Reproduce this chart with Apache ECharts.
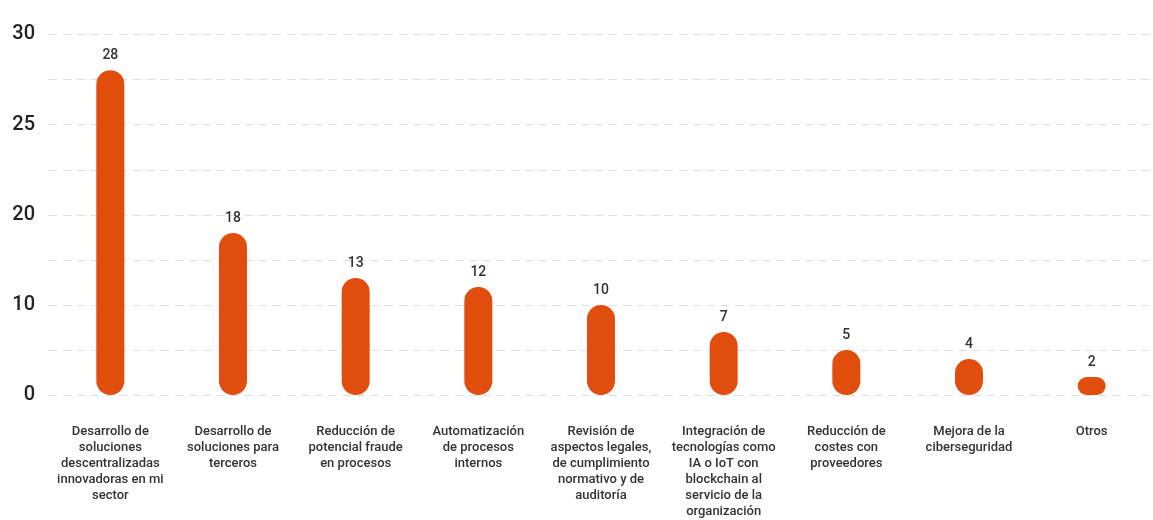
<!DOCTYPE html>
<html>
<head>
<meta charset="utf-8">
<script src="https://cdn.jsdelivr.net/npm/echarts@6/dist/echarts.min.js"></script>
<style>
html,body{margin:0;padding:0;background:#fff;}
#chart{width:1153px;height:520px;}
</style>
</head>
<body>
<div id="chart"></div>
<script>
// Data
const categories = [
  "Desarrollo de\nsoluciones\ndescentralizadas\ninnovadoras en mi\nsector",
  "Desarrollo de\nsoluciones para\nterceros",
  "Reducción de\npotencial fraude\nen procesos",
  "Automatización\nde procesos\ninternos",
  "Revisión de\naspectos legales,\nde cumplimiento\nnormativo y de\nauditoría",
  "Integración de\ntecnologías como\nIA o IoT con\nblockchain al\nservicio de la\norganización",
  "Reducción de\ncostes con\nproveedores",
  "Mejora de la\nciberseguridad",
  "Otros"
];
const values = [28, 18, 13, 12, 10, 7, 5, 4, 2];
const lowerTickLabels = ["0", "10", "20"];
const upperTickLabels = ["25", "30"];

const BAR = '#E14D0C';
const split = 20;

const chart = echarts.init(document.getElementById('chart'), null, {renderer: 'canvas'});
const gridLine = {show: true, lineStyle: {color: '#dedede', width: 1, type: [8, 6]}};
const yLabel = {
  fontFamily: 'Roboto', fontSize: 20, color: '#222', fontWeight: 500, margin: 14
};
const valLabel = {
  show: true, position: 'top', distance: 8,
  fontFamily: 'Roboto', fontSize: 14, fontWeight: 500, color: '#333'
};

const lowerData = values.map(v => ({
  value: v,
  itemStyle: {borderRadius: v > split ? [0, 0, 14, 14] : 14}
}));

chart.setOption({
  animation: false,
  grid: [
    {left: 49, right: -16, top: 215, bottom: 124},
    {left: 49, right: -16, top: 34, bottom: 305}
  ],
  xAxis: [
    {
      type: 'category', gridIndex: 0, data: categories,
      axisLine: {show: false}, axisTick: {show: false},
      axisLabel: {
        interval: 0, margin: 29, fontFamily: 'Roboto', fontSize: 13,
        color: '#333', fontWeight: 500, lineHeight: 16, align: 'center', verticalAlign: 'top'
      }
    },
    {
      type: 'category', gridIndex: 1, data: categories,
      axisLine: {show: false}, axisTick: {show: false}, axisLabel: {show: false}
    }
  ],
  yAxis: [
    {
      type: 'value', gridIndex: 0, min: 0, max: split, interval: 5,
      axisLine: {show: false}, axisTick: {show: false}, splitLine: gridLine,
      axisLabel: Object.assign({}, yLabel, {
        formatter: v => lowerTickLabels.indexOf(String(v)) >= 0 ? String(v) : ''
      })
    },
    {
      type: 'value', gridIndex: 1, min: split, max: 30, interval: 2.5,
      axisLine: {show: false}, axisTick: {show: false}, splitLine: gridLine,
      axisLabel: Object.assign({}, yLabel, {
        formatter: v => upperTickLabels.indexOf(String(v)) >= 0 ? String(v) : ''
      })
    }
  ],
  series: [
    {
      type: 'bar', xAxisIndex: 0, yAxisIndex: 0, data: lowerData,
      barWidth: 28, clip: true,
      itemStyle: {color: BAR},
      label: Object.assign({}, valLabel, {
        formatter: p => p.value > split ? '' : String(p.value)
      })
    },
    {
      type: 'bar', xAxisIndex: 1, yAxisIndex: 1, data: values,
      barWidth: 28, clip: true,
      itemStyle: {color: BAR, borderRadius: [14, 14, 0, 0]},
      label: Object.assign({}, valLabel, {
        formatter: p => p.value > split ? String(p.value) : ''
      })
    }
  ]
});
</script>
</body>
</html>
